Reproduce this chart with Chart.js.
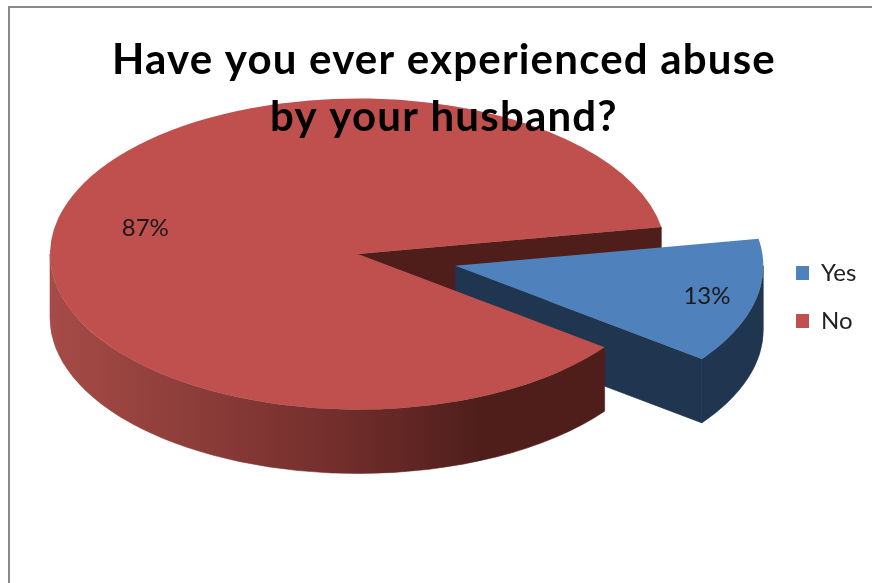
<!DOCTYPE html>
<html>
<head>
<meta charset="utf-8">
<title>Abuse survey</title>
<script src="https://cdn.jsdelivr.net/npm/chart.js@4"></script>
<style>
  html, body { margin: 0; background: #fff; }
  #frame { position: absolute; left: 8px; top: 6px; right: 0; bottom: 0; border-top: 2px solid #8a8a8a; border-left: 2px solid #8a8a8a; }
  canvas { position: absolute; left: 0; top: 0; }
</style>
</head>
<body>
<div id="frame"></div>
<canvas id="pieChart" width="872" height="583"></canvas>
<script>
const titleLines = ['Have you ever experienced abuse', 'by your husband?'];
const categories = ['Yes', 'No'];
const shares = [13, 87];
const sliceColors = ['#4F81BD', '#C0504D'];
const wallColors = ['#1F3550', '#4F1E1B'];

// Look of the tilted pie
const centerX = 358;
const centerY = 254;
const radius = 308;
const tilt = 0.505;
const depth = 64;
const explode = [100, 0];
const labelRadius = [0.84, 0.71];

function projectY(y) {
  return centerY + (y - centerY) * tilt;
}

// Flat sides of a slice, only the ones turned towards the viewer
function drawWall(ctx, arc, angle, color) {
  const ex = arc.x;
  const ey = projectY(arc.y);
  const px = ex + Math.cos(angle) * radius;
  const py = ey + Math.sin(angle) * radius * tilt;
  ctx.beginPath();
  ctx.moveTo(ex, ey);
  ctx.lineTo(px, py);
  ctx.lineTo(px, py + depth);
  ctx.lineTo(ex, ey + depth);
  ctx.closePath();
  ctx.fillStyle = color;
  ctx.strokeStyle = color;
  ctx.lineWidth = 0.6;
  ctx.fill();
  ctx.stroke();
}

// Curved outer side, clamped to the front half of the ellipse
function drawRim(ctx, arc, fill) {
  const from = Math.max(arc.startAngle, 0);
  const to = Math.min(arc.endAngle, Math.PI);
  if (to <= from) return;
  const ex = arc.x;
  const ey = projectY(arc.y);
  ctx.beginPath();
  ctx.ellipse(ex, ey, radius, radius * tilt, 0, from, to);
  ctx.ellipse(ex, ey + depth, radius, radius * tilt, 0, to, from, true);
  ctx.closePath();
  ctx.fillStyle = fill;
  ctx.strokeStyle = fill;
  ctx.lineWidth = 0.6;
  ctx.fill();
  ctx.stroke();
}

const pie3d = {
  id: 'pie3d',
  beforeLayout(chart) {
    // title goes on top of the pie, not under it
    const block = chart.titleBlock;
    block._layers = () => [{
      z: 1,
      draw(area) {
        chart.ctx.save();
        chart.ctx.letterSpacing = '1.2px';
        block.draw(area);
        chart.ctx.restore();
      }
    }];
  },
  afterLayout(chart) {
    const title = chart.titleBlock;
    title.left = 8;
    title.right = 880;
    const legend = chart.legend;
    const w = legend.right - legend.left;
    legend.left = 772;
    legend.right = legend.left + w;
    legend.top = 237;
    legend.bottom = 357;
  },
  afterDatasetsUpdate(chart) {
    chart.getDatasetMeta(0).data.forEach((arc, i) => {
      const mid = (arc.startAngle + arc.endAngle) / 2;
      arc.x = centerX + Math.cos(mid) * explode[i];
      arc.y = centerY + Math.sin(mid) * explode[i];
    });
  },
  beforeDatasetsDraw(chart) {
    const ctx = chart.ctx;
    const arcs = chart.getDatasetMeta(0).data;

    for (let i = arcs.length - 1; i >= 0; i--) {
      const arc = arcs[i];
      if (Math.cos(arc.endAngle) > 0) drawWall(ctx, arc, arc.endAngle, wallColors[i]);
      if (Math.cos(arc.startAngle) < 0) drawWall(ctx, arc, arc.startAngle, wallColors[i]);
    }

    const shade = ctx.createLinearGradient(centerX - radius, 0, centerX + radius, 0);
    shade.addColorStop(0, '#A64B47');
    shade.addColorStop(0.47, '#722E2B');
    shade.addColorStop(0.7, '#4F1E1B');
    shade.addColorStop(1, '#4F1E1B');
    drawRim(ctx, arcs[0], wallColors[0]);
    drawRim(ctx, arcs[1], shade);

    // top faces are squashed into ellipses
    ctx.save();
    ctx.translate(0, centerY);
    ctx.scale(1, tilt);
    ctx.translate(0, -centerY);
  },
  afterDatasetsDraw(chart) {
    const ctx = chart.ctx;
    ctx.restore();

    ctx.save();
    ctx.font = '24px Lato';
    ctx.fillStyle = '#1a1a1a';
    ctx.textAlign = 'center';
    ctx.textBaseline = 'middle';
    chart.getDatasetMeta(0).data.forEach((arc, i) => {
      const mid = (arc.startAngle + arc.endAngle) / 2;
      const r = radius * labelRadius[i];
      const x = arc.x + Math.cos(mid) * r;
      const y = projectY(arc.y) + Math.sin(mid) * r * tilt;
      ctx.fillText(shares[i] + '%', x, y);
    });
    ctx.restore();
  }
};

new Chart(document.getElementById('pieChart'), {
  type: 'pie',
  data: {
    labels: categories,
    datasets: [{
      data: shares,
      backgroundColor: sliceColors,
      borderWidth: 0,
      radius: radius,
      clip: false
    }]
  },
  options: {
    responsive: false,
    animation: false,
    rotation: 80,
    events: [],
    plugins: {
      title: {
        display: true,
        text: titleLines,
        color: '#000',
        font: { family: 'Lato', size: 42, weight: 'bold', lineHeight: 1.38 },
        padding: { top: 31, bottom: 0 }
      },
      legend: {
        position: 'right',
        labels: {
          color: '#222',
          font: { family: 'Lato', size: 24 },
          boxWidth: 13,
          boxHeight: 14,
          padding: 24
        }
      },
      tooltip: { enabled: false }
    }
  },
  plugins: [pie3d]
});
</script>
</body>
</html>
